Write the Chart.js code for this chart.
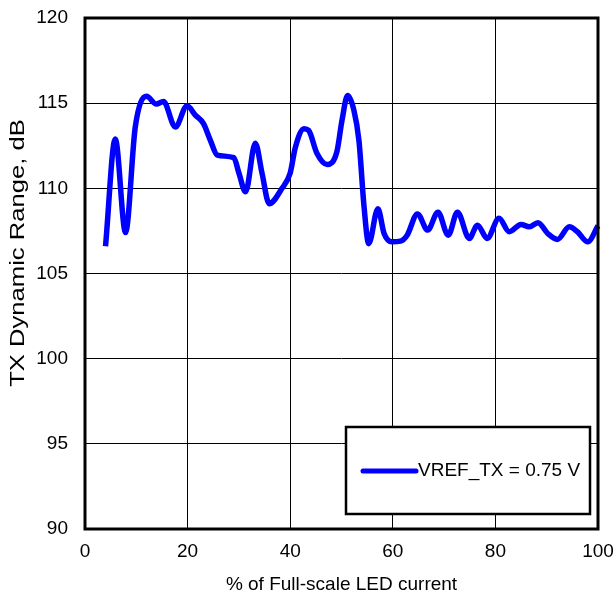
<!DOCTYPE html>
<html>
<head>
<meta charset="utf-8">
<script src="https://cdn.jsdelivr.net/npm/chart.js@4.4.1/dist/chart.umd.min.js"></script>
<style>
html,body{margin:0;padding:0;background:#fff;}
#wrap{width:615px;height:596px;}
</style>
</head>
<body>
<div id="wrap"><canvas id="c" width="615" height="596"></canvas></div>
<script>
const xValues = [4,5.9,7.9,9.8,12,13.9,15.3,17.6,19.9,21.5,23.1,24.4,25.8,29,30,31.3,33.2,34.5,35.9,38.4,40,41,42.7,43.6,45.2,47.2,49.1,50.1,51.2,52.4,53.4,54.4,55.3,57.1,58.3,59.8,61.5,62.8,64.8,66.8,68.8,70.8,72.6,74.9,76.5,78.4,80.7,82.7,85,86.6,88.3,90.2,92.1,94.4,96,98,100];
const dynRange = [106.6,112.9,107.4,113.6,115.4,114.95,115.1,113.6,114.85,114.3,113.8,112.85,111.95,111.8,110.9,109.8,112.65,110.9,109.1,110,110.9,112.4,113.5,113.4,112.06,111.4,112.15,114,115.45,114.6,112.8,108.9,106.75,108.8,107.35,106.86,106.9,107.25,108.5,107.55,108.6,107.25,108.6,107.06,107.84,107.06,108.24,107.45,107.88,107.74,107.98,107.35,107.0,107.74,107.45,106.86,107.8];
const seriesLabel = "VREF_TX = 0.75 V";
const xTicks = [0,20,40,60,80,100];
const yTicks = [90,95,100,105,110,115,120];
const xTitle = "% of Full-scale LED current";
const yTitle = "TX Dynamic Range, dB";

const FONT = "Arial, 'Liberation Sans', sans-serif";
const points = xValues.map((x,i)=>({x:x,y:dynRange[i]}));

const framePlugin = {
  id:'frame',
  afterDatasetsDraw(chart){
    const {ctx, chartArea:a} = chart;
    ctx.save();
    // legend box
    const bx = a.left + 261, by = a.top + 409, bw = 244, bh = 87;
    ctx.fillStyle = '#fff';
    ctx.fillRect(bx, by, bw, bh);
    ctx.strokeStyle = '#000';
    ctx.lineWidth = 2.5;
    ctx.strokeRect(bx, by, bw, bh);
    const ly = by + 44;
    ctx.strokeStyle = '#0000ff';
    ctx.lineWidth = 5;
    ctx.lineCap = 'round';
    ctx.beginPath();
    ctx.moveTo(bx + 17, ly);
    ctx.lineTo(bx + 70, ly);
    ctx.stroke();
    ctx.fillStyle = '#000';
    ctx.font = '19px ' + FONT;
    ctx.textBaseline = 'middle';
    ctx.textAlign = 'left';
    ctx.fillText(chart.data.datasets[0].label, bx + 72, ly);
    // frame
    ctx.strokeStyle = '#000';
    ctx.lineWidth = 3;
    ctx.lineCap = 'butt';
    ctx.strokeRect(a.left, a.top, a.right - a.left, a.bottom - a.top);
    ctx.restore();
  },
  afterDraw(chart){
    const {ctx, chartArea:a} = chart;
    ctx.save();
    ctx.translate(18, a.top + 235);
    ctx.rotate(-Math.PI/2);
    ctx.scale(1.22, 1);
    ctx.fillStyle = '#000';
    ctx.font = '21px ' + FONT;
    ctx.textAlign = 'center';
    ctx.textBaseline = 'middle';
    ctx.fillText(yTitle, 0, 0);
    ctx.restore();
  }
};

new Chart(document.getElementById('c'), {
  type:'line',
  data:{
    datasets:[{
      label: seriesLabel,
      data: points,
      borderColor:'#0000ff',
      borderWidth:5.5,
      pointRadius:0,
      tension:0.4,
      cubicInterpolationMode:'monotone',
      fill:false,
      clip:false
    }]
  },
  options:{
    responsive:false,
    animation:false,
    devicePixelRatio:1,
    layout:{padding:{top:18,right:17,left:0,bottom:0}},
    plugins:{legend:{display:false},tooltip:{enabled:false}},
    scales:{
      x:{
        type:'linear', min:0, max:100,
        afterBuildTicks(s){ s.ticks = xTicks.map(v=>({value:v})); },
        afterFit(s){ s.height = 67; s.paddingLeft = 0; s.paddingRight = 0; },
        grid:{color:'#000', lineWidth:1, drawTicks:false},
        border:{display:false},
        ticks:{color:'#000', font:{family:FONT,size:19}, padding:11, maxRotation:0},
        title:{display:true, text:xTitle, color:'#000', font:{family:FONT,size:19}, padding:{top:6,bottom:0}}
      },
      y:{
        type:'linear', min:90, max:120,
        afterBuildTicks(s){ s.ticks = yTicks.map(v=>({value:v})); },
        afterFit(s){ s.width = 85; s.paddingTop = 0; s.paddingBottom = 0; },
        grid:{color:'#000', lineWidth:1, drawTicks:false},
        border:{display:false},
        ticks:{color:'#000', font:{family:FONT,size:19}, padding:17},
        title:{display:false, text:yTitle}
      }
    }
  },
  plugins:[framePlugin]
});
</script>
</body>
</html>
